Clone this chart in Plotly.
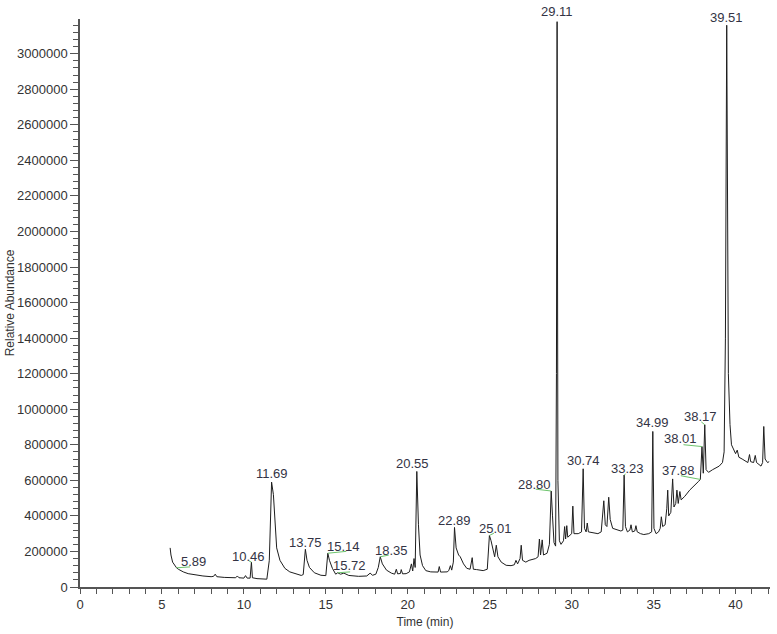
import plotly.graph_objects as go

# chromatogram trace (time in min, abundance)
time_min = [
    5.50, 5.55, 5.65, 5.80, 5.89, 6.00, 6.30, 6.60, 7.00, 7.50,
    8.00, 8.15, 8.25, 8.35, 8.80, 9.20, 9.50, 9.60, 9.70, 10.00,
    10.10, 10.20, 10.38, 10.46, 10.52, 10.80, 11.20, 11.40, 11.55, 11.69,
    11.80, 11.90, 12.00, 12.20, 12.50, 12.80, 13.20, 13.50, 13.62, 13.75,
    13.85, 14.00, 14.30, 14.70, 15.00, 15.12, 15.22, 15.40, 15.60, 15.72,
    15.90, 16.10, 16.40, 17.00, 17.50, 17.70, 17.85, 18.05, 18.20, 18.32,
    18.45, 18.70, 19.00, 19.20, 19.30, 19.38, 19.55, 19.60, 19.68, 19.90,
    20.10, 20.22, 20.30, 20.38, 20.45, 20.55, 20.65, 20.75, 20.90, 21.10,
    21.40, 21.70, 21.85, 21.92, 22.00, 22.40, 22.50, 22.60, 22.68, 22.78,
    22.85, 22.95, 23.10, 23.20, 23.40, 23.60, 23.80, 23.93, 24.00, 24.20,
    24.40, 24.60, 24.85, 24.98, 25.08, 25.20, 25.30, 25.40, 25.50, 25.70,
    26.00, 26.30, 26.50, 26.60, 26.70, 26.85, 26.92, 27.00, 27.20, 27.40,
    27.60, 27.80, 27.95, 28.03, 28.10, 28.20, 28.28, 28.50, 28.64, 28.75,
    28.83, 28.92, 29.02, 29.07, 29.11, 29.16, 29.25, 29.35, 29.50, 29.57,
    29.63, 29.70, 29.76, 29.90, 30.00, 30.07, 30.14, 30.40, 30.60, 30.70,
    30.78, 30.88, 30.95, 31.02, 31.30, 31.60, 31.80, 31.90, 31.96, 32.05,
    32.15, 32.26, 32.35, 32.50, 32.80, 33.00, 33.12, 33.20, 33.28, 33.40,
    33.55, 33.62, 33.70, 33.85, 33.92, 34.00, 34.20, 34.40, 34.70, 34.88,
    34.95, 35.02, 35.15, 35.30, 35.40, 35.47, 35.55, 35.70, 35.80, 35.86,
    35.92, 36.05, 36.16, 36.24, 36.35, 36.42, 36.50, 36.60, 36.68, 36.90,
    37.20, 37.50, 37.75, 37.85, 37.95, 38.03, 38.12, 38.20, 38.35, 38.60,
    38.80, 39.00, 39.20, 39.30, 39.38, 39.46, 39.56, 39.66, 39.75, 39.85,
    40.00, 40.10, 40.20, 40.40, 40.60, 40.75, 40.85, 40.92, 41.10, 41.20,
    41.28, 41.45, 41.55, 41.65, 41.72, 41.80, 41.95, 42.05,
]
abundance = [
    220000, 180000, 140000, 115000, 108000, 100000, 85000, 75000, 68000, 62000,
    58000, 60000, 72000, 58000, 54000, 52000, 52000, 62000, 52000, 50000,
    64000, 50000, 50000, 140000, 52000, 47000, 45000, 44000, 150000, 590000,
    520000, 330000, 220000, 150000, 105000, 85000, 72000, 65000, 70000, 212000,
    150000, 110000, 80000, 66000, 64000, 190000, 150000, 105000, 72000, 80000,
    72000, 78000, 65000, 60000, 62000, 78000, 66000, 72000, 110000, 170000,
    130000, 95000, 78000, 72000, 100000, 74000, 76000, 98000, 74000, 75000,
    85000, 130000, 90000, 160000, 110000, 650000, 350000, 180000, 120000, 92000,
    85000, 82000, 84000, 115000, 84000, 85000, 92000, 120000, 95000, 140000,
    335000, 220000, 180000, 170000, 130000, 105000, 100000, 165000, 100000, 98000,
    96000, 92000, 100000, 290000, 260000, 200000, 170000, 235000, 170000, 140000,
    122000, 120000, 125000, 150000, 130000, 160000, 235000, 150000, 140000, 150000,
    155000, 160000, 170000, 270000, 180000, 265000, 180000, 190000, 240000, 540000,
    400000, 250000, 230000, 1200000, 3180000, 600000, 260000, 240000, 260000, 340000,
    270000, 345000, 280000, 290000, 300000, 455000, 300000, 300000, 310000, 665000,
    330000, 310000, 360000, 310000, 305000, 300000, 310000, 400000, 485000, 350000,
    340000, 505000, 380000, 330000, 320000, 315000, 320000, 630000, 340000, 310000,
    320000, 350000, 310000, 315000, 345000, 310000, 300000, 295000, 300000, 310000,
    875000, 330000, 300000, 310000, 330000, 395000, 340000, 350000, 440000, 545000,
    400000, 420000, 608000, 450000, 470000, 545000, 470000, 537000, 490000, 510000,
    545000, 570000, 595000, 605000, 790000, 640000, 913000, 660000, 645000, 660000,
    670000, 680000, 700000, 760000, 1400000, 3160000, 1200000, 913000, 800000, 780000,
    750000, 770000, 730000, 720000, 710000, 700000, 745000, 705000, 700000, 740000,
    700000, 690000, 680000, 700000, 903000, 720000, 700000, 705000,
]

# peak labels
label_text = ["5.89", "10.46", "11.69", "13.75", "15.14", "15.72", "18.35",
              "20.55", "22.89", "25.01", "28.80", "29.11", "30.74", "33.23",
              "34.99", "37.88", "38.01", "38.17", "39.51"]
label_time = [5.89, 10.46, 11.69, 13.75, 15.12, 15.72, 18.32,
              20.55, 22.85, 24.98, 28.75, 29.11, 30.70, 33.20,
              34.95, 37.85, 37.95, 38.12, 39.46]
label_abund = [108000, 140000, 590000, 212000, 190000, 80000, 170000,
               650000, 335000, 290000, 540000, 3180000, 665000, 630000,
               875000, 605000, 790000, 913000, 3160000]

# text centre offset from the peak (px, y down) and green leader end offset
text_off = {"5.89": (17, -6), "10.46": (-3, -6), "11.69": (0, -9), "13.75": (0, -7),
            "15.14": (16, -7), "15.72": (12, -7), "18.35": (11, -6), "20.55": (-4, -8),
            "22.89": (0, -7), "25.01": (6, -7), "28.80": (-17, -7), "29.11": (0, -10),
            "30.74": (0, -8), "33.23": (3, -7), "34.99": (0, -9), "37.88": (-22, -9),
            "38.01": (-21, -8), "38.17": (-4, -8), "39.51": (0, -8)}
leader_off = {"5.89": (15, -1), "10.46": (-4, -2), "15.14": (20, -2), "15.72": (14, -1),
              "18.35": (10, -2), "25.01": (6, -3), "28.80": (-17, -2), "33.23": (3, -2),
              "37.88": (-21, -4), "38.01": (-20, -2), "38.17": (-5, -4)}

fig = go.Figure()
fig.add_trace(go.Scatter(x=time_min, y=abundance, mode="lines",
                         line=dict(color="#1e1e1e", width=1),
                         showlegend=False, hoverinfo="x+y"))

annotations = []
for txt, t, a in zip(label_text, label_time, label_abund):
    if txt in leader_off:
        lx, ly = leader_off[txt]
        annotations.append(dict(x=t, y=a, xref="x", yref="y", text="",
                                showarrow=True, arrowhead=0, arrowwidth=1,
                                arrowcolor="#6cc46c", ax=lx, ay=ly, standoff=0))
    dx, dy = text_off[txt]
    annotations.append(dict(x=t, y=a, xref="x", yref="y", text=txt, showarrow=False,
                            xshift=dx, yshift=-dy, xanchor="center", yanchor="middle",
                            font=dict(family="Arial, Liberation Sans", size=13, color="#333344")))

axis_font = dict(family="Arial, Liberation Sans", size=13, color="#333333")
title_font = dict(family="Arial, Liberation Sans", size=12, color="#333333")
fig.update_layout(
    width=777, height=634,
    margin=dict(l=80, r=7, t=19, b=47),
    paper_bgcolor="white", plot_bgcolor="white",
    annotations=annotations,
    xaxis=dict(range=[0, 42.1], tickmode="linear", tick0=0, dtick=5,
               ticks="outside", ticklen=5, tickwidth=1, tickcolor="#555555",
               minor=dict(dtick=1, ticks="outside", ticklen=5, tickcolor="#555555", showgrid=False),
               showline=True, linecolor="#555555", linewidth=1.5, automargin=False,
               showgrid=False, zeroline=False, tickfont=axis_font,
               title=dict(text="Time (min)", font=title_font, standoff=6)),
    yaxis=dict(range=[0, 3195000], tickmode="linear", tick0=0, dtick=200000,
               tickformat="d", ticks="outside", ticklen=8, tickwidth=1, tickcolor="#555555",
               minor=dict(dtick=40000, ticks="outside", ticklen=5, tickcolor="#555555", showgrid=False),
               showline=True, linecolor="#555555", linewidth=1.5, automargin=False,
               showgrid=False, zeroline=False, tickfont=axis_font,
               title=dict(text="Relative Abundance", font=title_font, standoff=0)),
)

# drop the browser's default 8px body margin so the figure sits at the page corner
fig.write_html("out.html", config={"displayModeBar": False},
               post_script="document.body.style.margin = '0';")
